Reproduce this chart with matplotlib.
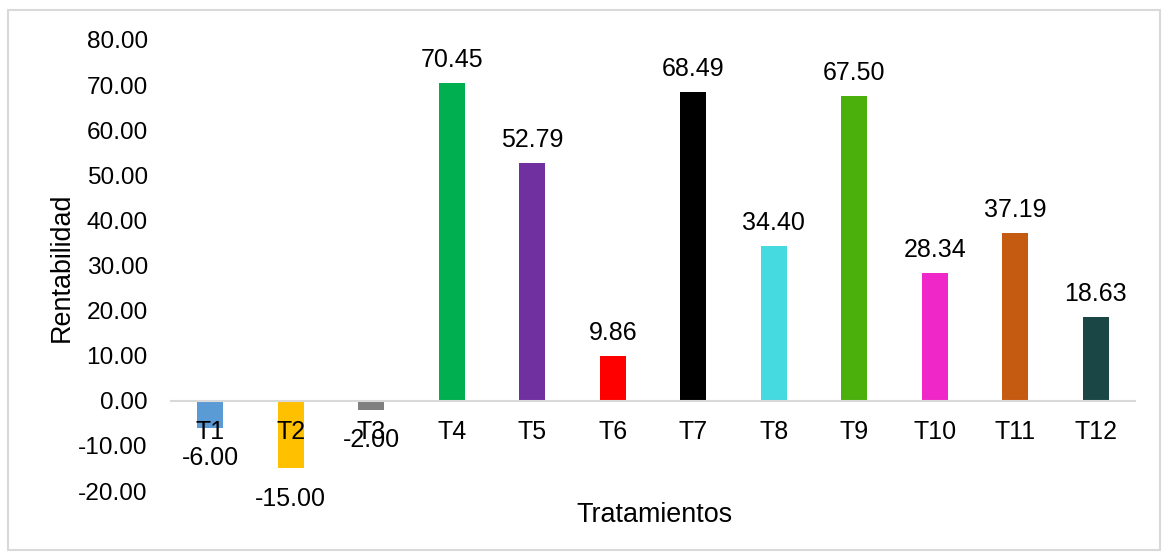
import matplotlib
matplotlib.use("Agg")
import matplotlib.pyplot as plt
from matplotlib.patches import Rectangle

categories = ["T1", "T2", "T3", "T4", "T5", "T6", "T7", "T8", "T9", "T10", "T11", "T12"]
values = [-6.00, -15.00, -2.00, 70.45, 52.79, 9.86, 68.49, 34.40, 67.50, 28.34, 37.19, 18.63]
colors = ["#5B9BD5", "#FFC000", "#808080", "#00B050", "#7030A0", "#FF0000",
          "#000000", "#45D9E0", "#4BB00C", "#F027C8", "#C55A11", "#1A4646"]
yticks = [-20, -10, 0, 10, 20, 30, 40, 50, 60, 70, 80]

plt.rcParams['font.family'] = ['Liberation Sans', 'DejaVu Sans']

W, H = 1164, 553
fig = plt.figure(figsize=(W / 100, H / 100), dpi=100)
ax = fig.add_axes([170 / W, 1 - 491 / H, (1136 - 170) / W, (491 - 40) / H])

x = list(range(len(categories)))
ax.bar(x, values, width=0.32, color=colors, zorder=2)
ax.set_xlim(-0.5, len(categories) - 0.5)
ax.set_ylim(-20, 80)
ax.set_yticks(yticks)
ax.set_yticklabels([f"{v:.2f}" for v in yticks], fontsize=17.6)
ax.tick_params(axis='y', length=0, pad=16)
ax.tick_params(axis='x', length=0)
ax.set_xticks([])
for s in ax.spines.values():
    s.set_visible(False)
ax.axhline(0, color="#D9D9D9", lw=1.5, zorder=3)

# category labels just below zero line
for xi, c in zip(x, categories):
    ax.text(xi, -7.0, c, ha="center", va="center", fontsize=18, zorder=4)

# data labels
for xi, v in zip(x, values):
    if v >= 0:
        ax.annotate(f"{v:.2f}", (xi, v), xytext=(0, 8), textcoords="offset points",
                    ha="center", va="bottom", fontsize=18, zorder=4)
    else:
        ax.annotate(f"{v:.2f}", (xi, v), xytext=(0, -13), textcoords="offset points",
                    ha="center", va="top", fontsize=18, zorder=4)

fig.text(62 / W, 1 - 267 / H, "Rentabilidad", rotation=90, ha="center", va="center", fontsize=19.4)
fig.text(654 / W, 1 - 515 / H, "Tratamientos", ha="center", va="center", fontsize=19.4)

fig.patches.append(Rectangle((8 / W, 1 - 550 / H), (1160 - 8) / W, (550 - 10) / H,
                             transform=fig.transFigure, fill=False, edgecolor="#D9D9D9", lw=1.5))

fig.savefig("out.png", dpi=100)
